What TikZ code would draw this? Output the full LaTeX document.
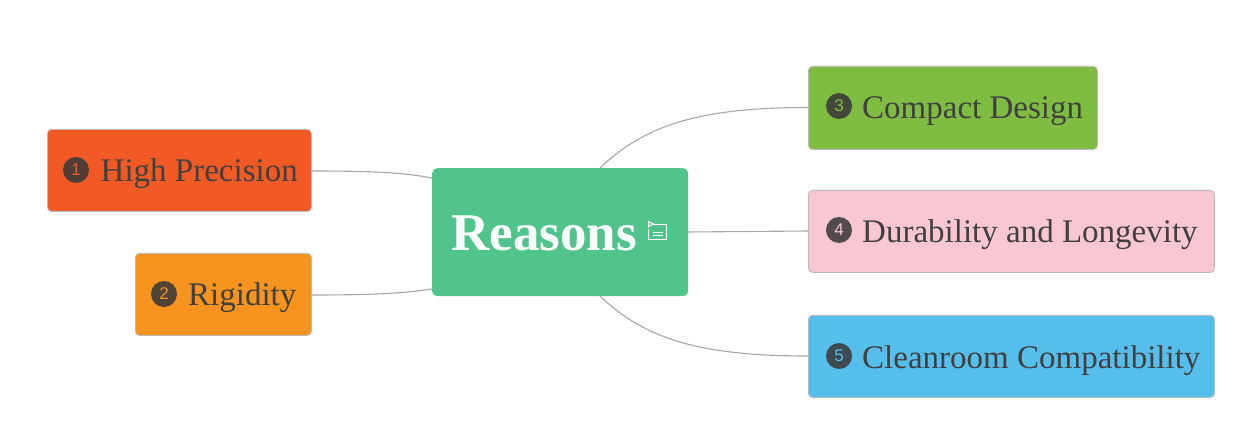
\documentclass[tikz,border=0pt]{standalone}
\usepackage{fontspec}
\setmainfont{Liberation Serif}
\newfontfamily\numfont{Liberation Sans}
\definecolor{cHP}{HTML}{F15A24}
\definecolor{cRG}{HTML}{F7931E}
\definecolor{cRT}{HTML}{51C48B}
\definecolor{cCD}{HTML}{7FBD42}
\definecolor{cDL}{HTML}{F9C7D3}
\definecolor{cCC}{HTML}{56BEEC}
\definecolor{txt}{HTML}{404040}
\definecolor{edge}{HTML}{A6A6A6}
\definecolor{bord}{HTML}{BBBBBB}
\definecolor{dot}{HTML}{3A3A3A}
\tikzset{
  box/.style={rectangle, rounded corners=4pt, draw=bord, line width=0.8pt, anchor=north west, inner sep=0pt},
  rootbox/.style={rectangle, rounded corners=5pt, draw=none, anchor=north west, inner sep=0pt},
  lbl/.style={anchor=base west, inner sep=0pt, text=txt, font=\fontsize{33}{36}\selectfont},
  num/.style={circle, fill=dot, fill opacity=0.88, text opacity=1, minimum size=26pt, inner sep=0pt, font=\numfont\fontsize{17}{17}\selectfont},
  conn/.style={draw=edge, line width=1.1pt},
}
\begin{document}
\begin{tikzpicture}[x=1pt,y=-1pt]
\useasboundingbox (0,0) rectangle (1260,443);
% connectors
\coordinate (hpE) at (311,171);
\coordinate (rgE) at (311,295);
\coordinate (rtL1) at (432,178);
\coordinate (rtL2) at (432,289);
\coordinate (rtT) at (600,168);
\coordinate (rtB) at (600,296);
\coordinate (rtR) at (688,232);
\coordinate (cdW) at (808,107.5);
\coordinate (dlW) at (808,231);
\coordinate (ccW) at (808,356);
\draw[conn] (hpE) .. controls (380,171) and (405,173) .. (rtL1);
\draw[conn] (rgE) .. controls (380,295) and (405,293) .. (rtL2);
\draw[conn] (rtT) .. controls (645,125) and (700,107.5) .. (cdW);
\draw[conn] (rtB) .. controls (645,339) and (700,356) .. (ccW);
\draw[conn] (rtR) -- (dlW);
% boxes
\node[box, fill=cHP, minimum width=264pt, minimum height=82pt] (hp) at (47,129) {};
\node[box, fill=cRG, minimum width=176pt, minimum height=82pt] (rg) at (135,253) {};
\node[rootbox, fill=cRT, minimum width=256pt, minimum height=128pt] (rt) at (432,168) {};
\node[box, fill=cCD, minimum width=289pt, minimum height=83pt] (cd) at (808,66) {};
\node[box, fill=cDL, minimum width=406pt, minimum height=82pt] (dl) at (808,190) {};
\node[box, fill=cCC, minimum width=406pt, minimum height=82pt] (cc) at (808,315) {};
% numbers
\node[num, text=cHP] (n1) at (76,170) {1};
\node[num, text=cRG] (n2) at (164,294) {2};
\node[num, text=cCD] (n3) at (839,106) {3};
\node[num, text=cDL] (n4) at (839,230) {4};
\node[num, text=cCC] (n5) at (839,356) {5};
% labels
\node[lbl] (t1) at (100.5,182) {High Precision};
\node[lbl] (t2) at (188,306) {Rigidity};
\node[lbl] (t3) at (862,119) {Compact Design};
\node[lbl] (t4) at (862,243) {Durability and Longevity};
\node[lbl] (t5) at (862,368) {Cleanroom Compatibility};
\node[anchor=base west, inner sep=0pt, text=white, font=\bfseries\fontsize{53}{56}\selectfont] (rtt) at (451,251) {Reasons};
% note icon
\begin{scope}[draw=white, line width=1pt]
\draw (653,224.5) -- (666,224.5) -- (666,240) -- (648.5,240) -- (648.5,229);
\draw (648.5,228) -- (648.5,221.5) -- (653.5,224) -- (648.5,226.5);
\draw (652.5,232.5) -- (663,232.5);
\draw (652.5,236) -- (663,236);
\end{scope}
\end{tikzpicture}
\end{document}
